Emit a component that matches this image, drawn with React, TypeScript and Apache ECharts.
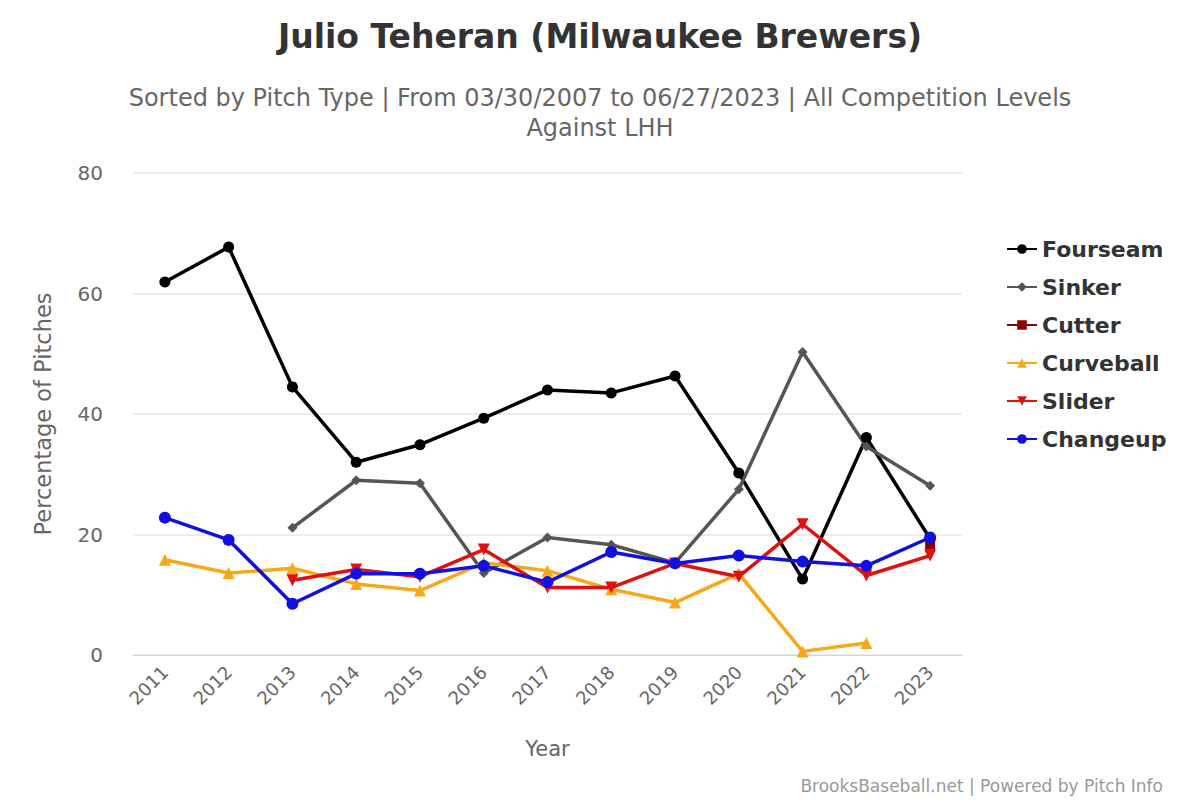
import React, { useEffect, useRef } from "react";
import * as echarts from "echarts";

const years = ["2011","2012","2013","2014","2015","2016","2017","2018","2019","2020","2021","2022","2023"];
const fourseam = [61.9, 67.7, 44.5, 32.0, 34.9, 39.3, 44.0, 43.5, 46.3, 30.2, 12.6, 36.1, 19.3];
const sinker = [null, null, 21.1, 29.0, 28.5, 13.6, 19.5, 18.3, 15.3, 27.5, 50.3, 34.6, 28.1];
const cutter = [null, null, null, null, null, null, null, null, null, null, null, null, 18.3];
const curveball = [15.8, 13.6, 14.4, 11.8, 10.7, 15.3, 14.0, 10.9, 8.7, 13.5, 0.6, 2.0, null];
const slider = [null, null, 12.4, 14.2, 13.0, 17.5, 11.2, 11.2, 15.2, 13.0, 21.7, 13.2, 16.5];
const changeup = [22.8, 19.1, 8.5, 13.5, 13.5, 14.8, 12.1, 17.1, 15.2, 16.5, 15.5, 14.8, 19.5];
const yTicks = [0, 20, 40, 60, 80];

const FONT = "DejaVu Sans, Verdana, sans-serif";

export default function App() {
  const ref = useRef<HTMLDivElement>(null);
  useEffect(() => {
    if (!ref.current) return;
    const chart = echarts.init(ref.current, undefined, { renderer: "svg" });
    const mk = (name: string, data: any[], color: string, symbol: string, size: number, rot = 0) => ({
      name,
      type: "line",
      data,
      symbol,
      symbolSize: size,
      symbolRotate: rot,
      showSymbol: true,
      connectNulls: false,
      lineStyle: { color, width: 3.5 },
      itemStyle: { color },
      emphasis: { disabled: true },
    });
    const sub = { fontSize: 24, fontWeight: "normal", color: "#666666", fontFamily: FONT };
    chart.setOption({
      animation: false,
      backgroundColor: "#ffffff",
      textStyle: { fontFamily: FONT },
      title: [
        {
          text: "Julio Teheran (Milwaukee Brewers)",
          left: "center",
          top: 15,
          textStyle: { fontSize: 33, fontWeight: "bold", color: "#333333", fontFamily: FONT },
        },
        {
          text: "Sorted by Pitch Type | From 03/30/2007 to 06/27/2023 | All Competition Levels",
          left: "center",
          top: 81,
          textStyle: sub,
        },
        {
          text: "Against LHH",
          left: "center",
          top: 111,
          textStyle: sub,
        },
        {
          text: "BrooksBaseball.net | Powered by Pitch Info",
          right: 32,
          top: 772,
          textStyle: { fontSize: 17, fontWeight: "normal", color: "#999999", fontFamily: FONT },
        },
      ],
      legend: {
        orient: "vertical",
        left: 1001,
        top: 233,
        itemWidth: 30,
        itemHeight: 12,
        itemGap: 16,
        textStyle: { fontSize: 22, fontWeight: "bold", color: "#333333", fontFamily: FONT },
        data: ["Fourseam", "Sinker", "Cutter", "Curveball", "Slider", "Changeup"],
      },
      grid: { left: 133, right: 238, top: 173, bottom: 145, containLabel: false },
      xAxis: {
        type: "category",
        data: years,
        boundaryGap: true,
        name: "Year",
        nameLocation: "middle",
        nameGap: 83,
        nameTextStyle: { fontSize: 21, color: "#666666", fontFamily: FONT },
        axisLine: { lineStyle: { color: "#ccd6eb", width: 1 } },
        axisTick: { show: false },
        axisLabel: { rotate: 45, fontSize: 18, color: "#666666", margin: 14, fontFamily: FONT },
        splitLine: { show: false },
      },
      yAxis: {
        type: "value",
        min: yTicks[0],
        max: yTicks[yTicks.length - 1],
        interval: 20,
        name: "Percentage of Pitches",
        nameLocation: "middle",
        nameGap: 79,
        nameTextStyle: { fontSize: 22.5, color: "#666666", fontFamily: FONT },
        axisLine: { show: false },
        axisTick: { show: false },
        axisLabel: { fontSize: 20, color: "#666666", margin: 30, fontFamily: FONT },
        splitLine: { lineStyle: { color: "#e6e6e6", width: 1.5 } },
      },
      series: [
        mk("Fourseam", fourseam, "#000000", "circle", 11),
        mk("Sinker", sinker, "#555555", "diamond", 10),
        mk("Cutter", cutter, "#8b0000", "rect", 10),
        mk("Curveball", curveball, "#f5a81c", "triangle", 12),
        mk("Slider", slider, "#e01010", "triangle", 12, 180),
        mk("Changeup", changeup, "#1010e0", "circle", 12),
      ],
    });
    return () => chart.dispose();
  }, []);
  return <div ref={ref} style={{ width: 1200, height: 800, position: "absolute", left: 0, top: 0 }} />;
}
